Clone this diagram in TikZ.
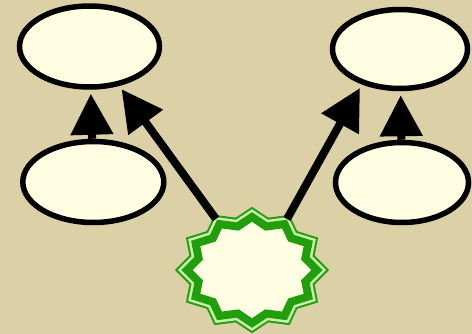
\documentclass[tikz,border=0pt]{standalone}
\usetikzlibrary{arrows.meta,shapes.geometric}
\definecolor{bg}{RGB}{220,208,167}
\definecolor{cream}{RGB}{255,253,226}
\definecolor{sgreen}{RGB}{32,158,12}
\definecolor{palegreen}{RGB}{205,240,175}
\tikzset{
  oval/.style={ellipse, draw=black, line width=5.5pt, fill=cream, inner sep=0pt},
  conn/.style={line width=8pt, draw=black, -{Triangle[width=41pt,length=41pt]}, shorten >=4pt},
}
\def\starP{plot[samples at={0,...,23}] ({65*(1-0.15*mod(\x,2))*cos(90+15*\x)},{53*(1-0.15*mod(\x,2))*sin(90+15*\x)}) -- cycle}
\begin{document}
\begin{tikzpicture}[x=1pt,y=-1pt]
\fill[bg] (0,0) rectangle (472,334);
\useasboundingbox (0,0) rectangle (472,334);
\node[oval, minimum width=140pt, minimum height=81pt] (tl) at (89.5,46.5) {};
\node[oval, minimum width=141pt, minimum height=81pt] (bl) at (93.3,182) {};
\node[oval, minimum width=135pt, minimum height=79pt] (tr) at (400,49) {};
\node[oval, minimum width=133pt, minimum height=80pt] (br) at (402,182.5) {};
\begin{scope}[shift={(252,270)}, line join=miter]
  \draw[sgreen, line width=17pt] \starP;
  \draw[palegreen, line width=13pt] \starP;
  \fill[cream] \starP;
  \draw[sgreen, line width=8pt] \starP;
\end{scope}
\coordinate (sL) at (216,219);
\coordinate (sR) at (287,219);
\draw[conn] (bl) -- (tl);
\draw[conn] (br) -- (tr);
\draw[conn] (sL) -- (tl.-53);
\draw[conn] (sR) -- (tr.-137);
\end{tikzpicture}
\end{document}
